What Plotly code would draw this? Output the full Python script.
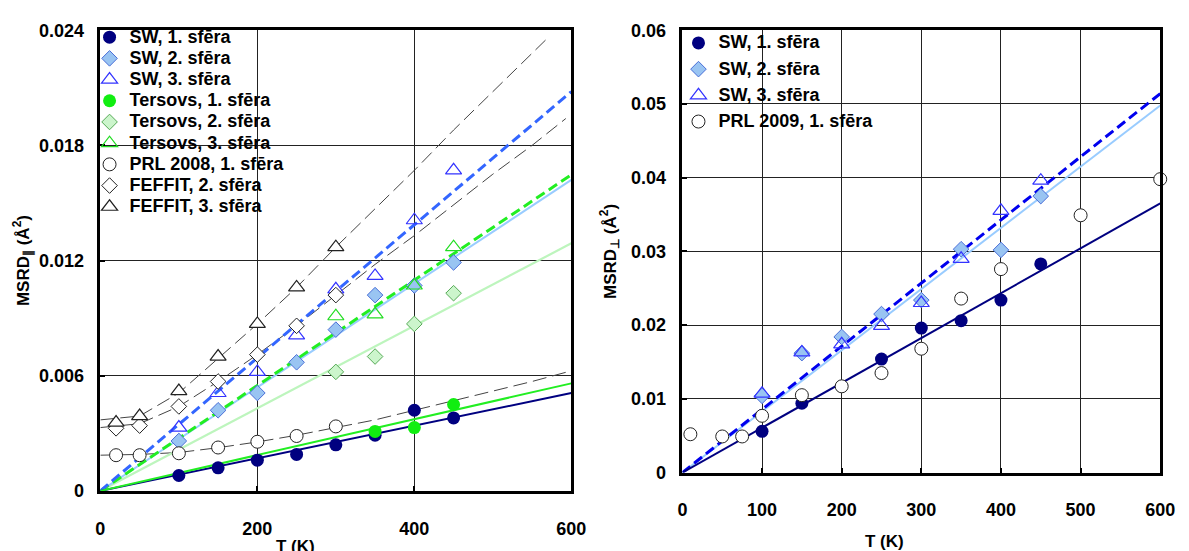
import plotly.graph_objects as go

# ---------------- data: left panel (MSRD parallel) ----------------
T_sw = [100, 150, 200, 250, 300, 350, 400, 450]
sw1_par = [0.0008, 0.0012, 0.0016, 0.0019, 0.0024, 0.0029, 0.0042, 0.0038]
sw2_par = [0.0026, 0.0042, 0.0051, 0.0067, 0.0084, 0.0102, 0.0107, 0.0119]
sw3_par = [0.0033, 0.0051, 0.0062, 0.0081, 0.0105, 0.0112, 0.0141, 0.0167]

T_ter1 = [350, 400, 450]
ter1_par = [0.0031, 0.0033, 0.0045]
T_ter23 = [300, 350, 400, 450]
ter2_par = [0.0062, 0.0070, 0.0087, 0.0103]
ter3_par = [0.0091, 0.0092, 0.0107, 0.0127]

T_exp = [20, 50, 100, 150, 200, 250, 300]
prl2008 = [0.00186, 0.00186, 0.00196, 0.00226, 0.00256, 0.00286, 0.00336]
feffit2 = [0.00326, 0.0034, 0.0044, 0.0057, 0.0071, 0.0086, 0.0102]
feffit3 = [0.00356, 0.0039, 0.0052, 0.0070, 0.0087, 0.0106, 0.0127]

# linear fits (T = 0 and 600)
T_fit = [0, 600]
fit_sw1_par = [0, 0.0051]
fit_ter1_par = [0, 0.0056]
fit_sw2_par = [0, 0.0162]
fit_sw3_par = [0, 0.0208]
fit_ter2_par = [0, 0.0129]
fit_ter3_par = [0, 0.01647]

T_prl_curve = [0, 50, 100, 150, 200, 250, 300, 350, 400, 450, 500, 550, 595]
prl_curve = [0.00186, 0.0019, 0.0020, 0.00225, 0.00255, 0.0029, 0.0033, 0.0037,
             0.0042, 0.0047, 0.0052, 0.0057, 0.0062]
T_f2_curve = [0, 50, 100, 150, 200, 250, 300, 350, 400, 450, 500, 550, 593]
f2_curve = [0.0033, 0.0035, 0.0044, 0.0057, 0.0071, 0.0086, 0.0102, 0.0118,
            0.0133, 0.0149, 0.0165, 0.0180, 0.0194]
T_f3_curve = [0, 50, 100, 150, 200, 250, 300, 350, 400, 450, 500, 550, 570]
f3_curve = [0.0037, 0.0039, 0.0051, 0.0069, 0.0087, 0.0106, 0.0127, 0.0147,
            0.0167, 0.0188, 0.0208, 0.0228, 0.0236]

# ---------------- data: right panel (MSRD perpendicular) ----------------
T_sw1_perp = [100, 150, 250, 300, 350, 400, 450]
sw1_perp = [0.0056, 0.0094, 0.0154, 0.0196, 0.0206, 0.0234, 0.0283]
T_sw23_perp = [100, 150, 200, 250, 300, 350, 400, 450]
sw2_perp = [0.0104, 0.0162, 0.0184, 0.0215, 0.0234, 0.0303, 0.0302, 0.0375]
sw3_perp = [0.0107, 0.0163, 0.0174, 0.0199, 0.0230, 0.0290, 0.0355, 0.0396]
T_prl2009 = [10, 50, 75, 100, 150, 200, 250, 300, 350, 400, 500, 600]
prl2009 = [0.0052, 0.0049, 0.0049, 0.0077, 0.0105, 0.0117, 0.0135, 0.0168,
           0.0236, 0.0276, 0.0349, 0.0398]
fit_sw1_perp = [0, 0.0365]
fit_sw2_perp = [0, 0.0498]
fit_sw3_perp = [0, 0.0514]

left_y_ticks = [0, 0.006, 0.012, 0.018, 0.024]
left_x_ticks = [0, 200, 400, 600]
right_y_ticks = [0, 0.01, 0.02, 0.03, 0.04, 0.05, 0.06]
right_x_ticks = [0, 100, 200, 300, 400, 500, 600]

# ---------------- styles ----------------
NAVY = "#000080"
FONT = "Liberation Sans, Arial, sans-serif"
W, H = 1189, 551
LEG_TXT = 18  # rendered legend text size

fig = go.Figure()


def line(x, y, color, width, dash="solid", axes=("x", "y")):
    fig.add_trace(go.Scatter(x=x, y=y, mode="lines", xaxis=axes[0], yaxis=axes[1],
                             line=dict(color=color, width=width, dash=dash),
                             showlegend=False, hoverinfo="skip"))


def pts(x, y, name, symbol, fill, edge, ew, size, legend, axes=("x", "y"), clip=True):
    label = f'<span style="font-size:{LEG_TXT}px;font-weight:bold">{name}</span>'
    fig.add_trace(go.Scatter(x=x, y=y, mode="markers", name=label, xaxis=axes[0], yaxis=axes[1],
                             marker=dict(symbol=symbol, size=size, color=fill,
                                         line=dict(color=edge, width=ew)),
                             legend=legend, legendgroup=name, cliponaxis=clip,
                             hovertemplate=name + ": %{x} K, %{y}<extra></extra>"))


THIN_DASH = "14px,6px"
THICK_DASH = "10px,5px"

# left panel lines
line(T_f3_curve, f3_curve, "#444444", 1, THIN_DASH)
line(T_f2_curve, f2_curve, "#444444", 1, THIN_DASH)
line(T_prl_curve, prl_curve, "#444444", 1, THIN_DASH)
line(T_fit, fit_ter2_par, "#BDF5BD", 2.2)
line(T_fit, fit_sw2_par, "#99CCFF", 2)
line(T_fit, fit_ter3_par, "#22EE22", 3, THICK_DASH)
line(T_fit, fit_sw3_par, "#3366FF", 3, THICK_DASH)
line(T_fit, fit_sw1_par, NAVY, 2)
line(T_fit, fit_ter1_par, "#22EE22", 2)

# left panel markers
pts(T_sw, sw1_par, "SW, 1. sfēra", "circle", NAVY, NAVY, 0, 13, "legend")
pts(T_sw, sw2_par, "SW, 2. sfēra", "diamond", "#99C4F2", "#4A6FD8", 1, 12, "legend")
pts(T_sw, sw3_par, "SW, 3. sfēra", "triangle-up-open", "#3333FF", "#3333FF", 1.2, 14, "legend")
pts(T_ter1, ter1_par, "Tersovs, 1. sfēra", "circle", "#11EE11", "#11EE11", 0, 13, "legend")
pts(T_ter23, ter2_par, "Tersovs, 2. sfēra", "diamond", "#CCF5CC", "#55AA55", 1, 12, "legend")
pts(T_ter23, ter3_par, "Tersovs, 3. sfēra", "triangle-up-open", "#22DD22", "#22DD22", 1.2, 14, "legend")
pts(T_exp, prl2008, "PRL 2008, 1. sfēra", "circle", "white", "#222222", 1, 13, "legend")
pts(T_exp, feffit2, "FEFFIT, 2. sfēra", "diamond", "white", "#222222", 1, 12, "legend")
pts(T_exp, feffit3, "FEFFIT, 3. sfēra", "triangle-up", "white", "#222222", 1.2, 14, "legend")

# right panel lines
R = ("x2", "y2")
line(T_fit, fit_sw2_perp, "#99CCFF", 2, axes=R)
line(T_fit, fit_sw3_perp, "#0000EE", 3, THICK_DASH, axes=R)
line(T_fit, fit_sw1_perp, NAVY, 2, axes=R)

# right panel markers
pts(T_sw1_perp, sw1_perp, "SW, 1. sfēra", "circle", NAVY, NAVY, 0, 13, "legend2", R)
pts(T_sw23_perp, sw2_perp, "SW, 2. sfēra", "diamond", "#99C4F2", "#4A6FD8", 1, 12, "legend2", R)
pts(T_sw23_perp, sw3_perp, "SW, 3. sfēra", "triangle-up-open", "#3333FF", "#3333FF", 1.2, 14, "legend2", R)
pts(T_prl2009, prl2009, "PRL 2009, 1. sfēra", "circle", "white", "#222222", 1, 13, "legend2", R, clip=False)

# ---------------- layout ----------------
def px_x(p):
    return p / W


def px_y(p):
    return 1 - p / H


tickfont = dict(family=FONT, size=18, color="black", weight="bold")
axis_common = dict(showline=True, linecolor="black", linewidth=2.5, mirror=True,
                   showgrid=True, gridcolor="#222222", gridwidth=1, zeroline=False,
                   ticks="inside", ticklen=5, tickwidth=1.5, tickcolor="black",
                   tickfont=tickfont, fixedrange=True)
title_font = dict(family=FONT, size=17, color="black", weight="bold")

fig.update_layout(
    width=W, height=H, autosize=False,
    margin=dict(l=0, r=0, t=0, b=0),
    paper_bgcolor="white", plot_bgcolor="white",
    font=dict(family=FONT, color="black", weight="bold"),
    xaxis=dict(domain=[px_x(97), px_x(576)], range=[0, 600], tickvals=left_x_ticks,
               anchor="y", ticklabelstandoff=20, **axis_common),
    yaxis=dict(domain=[px_y(499), px_y(21)], range=[0, 0.024], tickvals=left_y_ticks,
               anchor="x", ticklabelstandoff=10,
               title=dict(text="MSRD<sub>∥</sub> (Å<sup>2</sup>)", standoff=6, font=title_font),
               **axis_common),
    xaxis2=dict(domain=[px_x(689), px_x(1175)], range=[0, 600], tickvals=right_x_ticks,
                anchor="y2", ticklabelstandoff=19, **axis_common),
    yaxis2=dict(domain=[px_y(480), px_y(21)], range=[0, 0.06], tickvals=right_y_ticks,
                anchor="x2", ticklabelstandoff=10,
                title=dict(text="MSRD<sub>⊥</sub> (Å<sup>2</sup>)", standoff=11, font=title_font),
                **axis_common),
    legend=dict(x=px_x(86), y=px_y(12), xanchor="left", yanchor="top",
                bgcolor="rgba(0,0,0,0)", borderwidth=0, traceorder="normal",
                font=dict(family=FONT, size=14, color="black", weight="bold"),
                itemclick=False, itemdoubleclick=False),
    legend2=dict(x=px_x(685), y=px_y(18), xanchor="left", yanchor="top",
                 bgcolor="rgba(0,0,0,0)", borderwidth=0, traceorder="grouped",
                 tracegroupgap=5,
                 font=dict(family=FONT, size=14, color="black", weight="bold"),
                 itemclick=False, itemdoubleclick=False),
    shapes=[
        dict(type="rect", xref="paper", yref="paper", layer="between",
             x0=px_x(99), x1=px_x(292), y0=px_y(225), y1=px_y(23),
             fillcolor="white", line=dict(width=0)),
        dict(type="rect", xref="paper", yref="paper", layer="between",
             x0=px_x(691), x1=px_x(882), y0=px_y(133), y1=px_y(23),
             fillcolor="white", line=dict(width=0)),
    ],
    annotations=[
        dict(text="T (K)", xref="paper", yref="paper", x=px_x(295), y=px_y(557),
             xanchor="center", yanchor="middle", showarrow=False,
             font=dict(family=FONT, size=17, color="black", weight="bold")),
        dict(text="T (K)", xref="paper", yref="paper", x=px_x(895), y=px_y(551),
             xanchor="center", yanchor="middle", showarrow=False,
             font=dict(family=FONT, size=17, color="black", weight="bold")),
    ],
)

fig.write_html("out.html")
